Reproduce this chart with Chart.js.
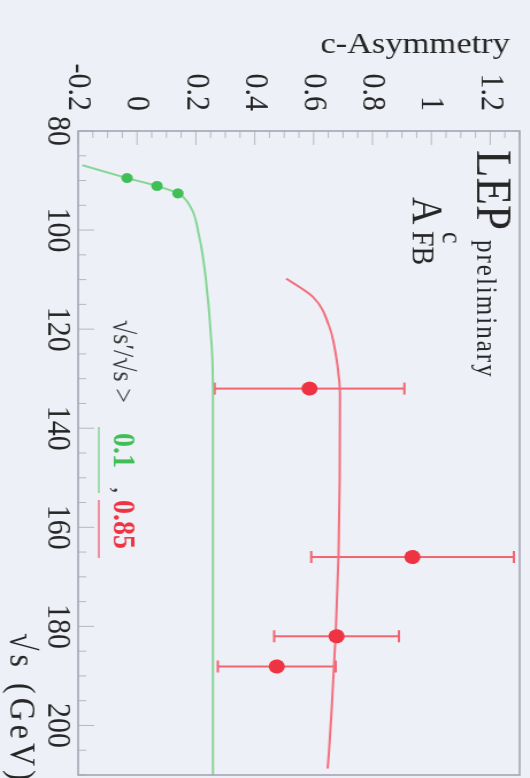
<!DOCTYPE html>
<html>
<head>
<meta charset="utf-8">
<script src="https://cdn.jsdelivr.net/npm/chart.js@4/dist/chart.umd.min.js"></script>
<style>
  html, body { margin: 0; padding: 0; background: #eef0f7; overflow: hidden; width: 530px; height: 778px; }
  /* the plot is laid out landscape and turned a quarter turn clockwise */
  #wrap { position: absolute; left: 0; top: 0; width: 860px; height: 461px;
          transform-origin: 0 0; transform: translate(530px, 0) rotate(90deg) scale(1, 1.1497); }
  canvas { display: block; }
</style>
</head>
<body>
<div id="wrap"><canvas id="c" width="860" height="461"></canvas></div>
<script>
// Measured charm forward-backward asymmetry
const lowEnergy = [89.5, 91.1, 92.6];          // √s (GeV), √s'/√s > 0.1 sample
const lowAfb = [-0.034, 0.068, 0.139];
const highEnergy = [132.0, 166.0, 182.0, 188.1]; // √s (GeV), √s'/√s > 0.85 sample
const highAfb = [0.586, 0.936, 0.678, 0.475];
const highErr = [0.322, 0.344, 0.212, 0.200];

// Standard Model expectation curves
const lowCurveEnergy = [86.9, 89.5, 91.1, 92.6, 95.5, 101.0, 114.2, 131.8, 170, 210];
const lowCurveAfb = [-0.186, -0.034, 0.068, 0.139, 0.183, 0.210, 0.241, 0.258, 0.258, 0.258];
const highCurveEnergy = [109.8, 113.5, 119.6, 127.7, 133.1, 150, 165.4, 181.6, 197.8, 208.7];
const highCurveAfb = [0.507, 0.598, 0.654, 0.682, 0.690, 0.689, 0.685, 0.675, 0.660, 0.648];

// Axis tick labels
const energyTicks = [80, 100, 120, 140, 160, 180, 200];
const energyTickLabels = ['80', '100', '120', '140', '160', '180', '200'];
const afbTicks = [-0.2, 0, 0.2, 0.4, 0.6, 0.8, 1, 1.2];
const afbTickLabels = ['-0.2', '0', '0.2', '0.4', '0.6', '0.8', '1', '1.2'];

const GREEN = '#3fbf55', GREEN_LINE = '#86d696';
const RED = '#ee3342', RED_LINE = '#f2707e';
const SERIF = '"Liberation Serif", "Times New Roman", serif';
const INK = '#262626';

const pts = (xs, ys) => xs.map((x, i) => ({ x, y: ys[i] }));

const decorations = {
  id: 'decorations',
  beforeDraw(chart) {
    const { ctx } = chart;
    ctx.save();
    ctx.fillStyle = '#eef0f7';
    ctx.fillRect(0, 0, chart.width, chart.height);
    ctx.restore();
  },
  beforeDatasetsDraw(chart) {
    const { ctx } = chart;
    const xs = chart.scales.x, ys = chart.scales.y;
    ctx.save();
    ctx.strokeStyle = '#f2646f';
    ctx.lineWidth = 2;
    highEnergy.forEach((e, i) => {
      const px = xs.getPixelForValue(e);
      const lo = ys.getPixelForValue(highAfb[i] - highErr[i]);
      const hi = ys.getPixelForValue(highAfb[i] + highErr[i]);
      ctx.beginPath();
      ctx.moveTo(px, lo); ctx.lineTo(px, hi);
      ctx.moveTo(px - 6, lo); ctx.lineTo(px + 6, lo);
      ctx.moveTo(px - 6, hi); ctx.lineTo(px + 6, hi);
      ctx.stroke();
    });
    ctx.restore();
  },
  afterDraw(chart) {
    const { ctx, chartArea: a } = chart;
    const xs = chart.scales.x, ys = chart.scales.y;
    ctx.save();
    // inward tick marks
    ctx.strokeStyle = '#b4b8c4';
    ctx.lineWidth = 1;
    ctx.beginPath();
    for (let v = 80; v <= 210; v += 5) {
      const px = xs.getPixelForValue(v);
      const len = (v % 20 === 0) ? 14 : 7;
      ctx.moveTo(px, a.bottom); ctx.lineTo(px, a.bottom - len);
    }
    for (let k = -4; k <= 26; k++) {
      const py = ys.getPixelForValue(k * 0.05);
      const len = (k % 4 === 0) ? 14 : 7;
      ctx.moveTo(a.left, py); ctx.lineTo(a.left + len, py);
    }
    ctx.stroke();
    // frame
    ctx.strokeStyle = '#a3a7b3';
    ctx.lineWidth = 1.6;
    ctx.strokeRect(a.left, a.top, a.right - a.left, a.bottom - a.top);

    ctx.fillStyle = INK;
    ctx.textBaseline = 'alphabetic';
    ctx.textAlign = 'left';
    // experiment label
    ctx.font = '45px ' + SERIF;
    ctx.fillText('LEP', 150, 46);
    ctx.font = '25px ' + SERIF;
    ctx.letterSpacing = '2px';
    ctx.fillText('preliminary', 240, 46);
    ctx.letterSpacing = '0px';
    ctx.font = '38px ' + SERIF;
    ctx.fillText('A', 197, 102);
    ctx.font = '26px ' + SERIF;
    ctx.fillText('c', 232, 76);
    ctx.font = '28px ' + SERIF;
    ctx.fillText('FB', 231, 102);

    // selection key
    ctx.font = '26px ' + SERIF;
    ctx.fillStyle = '#3a3a3a';
    ctx.fillText('√s\u2032/√s >', 320, 362);
    ctx.font = 'bold 28px ' + SERIF;
    ctx.fillStyle = GREEN;
    ctx.fillText('0.1', 433, 362);
    ctx.fillStyle = '#3a3a3a';
    ctx.font = '26px ' + SERIF;
    ctx.fillText(',', 487, 362);
    ctx.font = 'bold 28px ' + SERIF;
    ctx.fillStyle = RED;
    ctx.fillText('0.85', 500, 362);
    ctx.lineWidth = 1.5;
    ctx.strokeStyle = GREEN_LINE;
    ctx.beginPath(); ctx.moveTo(427, 375); ctx.lineTo(493, 375); ctx.stroke();
    ctx.strokeStyle = RED_LINE;
    ctx.beginPath(); ctx.moveTo(500, 375); ctx.lineTo(558, 375); ctx.stroke();

    // axis titles
    ctx.fillStyle = INK;
    ctx.font = '32px ' + SERIF;
    ctx.letterSpacing = '4px';
    ctx.fillText('√s (GeV)', 633, 452);
    ctx.letterSpacing = '0px';
    ctx.translate(53, 17.4);
    ctx.rotate(-Math.PI / 2);
    ctx.textAlign = 'right';
    ctx.font = '30px ' + SERIF;
    ctx.fillText('c-Asymmetry', 0, 0);
    ctx.restore();
  }
};

new Chart(document.getElementById('c'), {
  type: 'scatter',
  data: {
    datasets: [
      { label: 'high points', data: pts(highEnergy, highAfb), pointRadius: 7,
        pointBackgroundColor: RED, pointBorderWidth: 0, showLine: false },
      { label: 'low points', data: pts(lowEnergy, lowAfb), pointRadius: 5,
        pointBackgroundColor: GREEN, pointBorderWidth: 0, showLine: false },
      { label: 'high curve', data: pts(highCurveEnergy, highCurveAfb), showLine: true,
        borderColor: RED_LINE, borderWidth: 2, pointRadius: 0, cubicInterpolationMode: 'monotone' },
      { label: 'low curve', data: pts(lowCurveEnergy, lowCurveAfb), showLine: true,
        borderColor: GREEN_LINE, borderWidth: 2, pointRadius: 0, cubicInterpolationMode: 'monotone' }
    ]
  },
  options: {
    responsive: false,
    animation: false,
    devicePixelRatio: 1,
    layout: { padding: { left: 0, right: 85, top: 9, bottom: 0 } },
    plugins: { legend: { display: false }, tooltip: { enabled: false } },
    scales: {
      x: {
        type: 'linear', min: 80, max: 210,
        afterBuildTicks: s => { s.ticks = energyTicks.map(v => ({ value: v })); },
        afterFit: s => { s.height = 68; s.paddingLeft = 0; s.paddingRight = 0; },
        grid: { display: false }, border: { display: false },
        ticks: { font: { family: SERIF, size: 30 }, color: INK, padding: -8, maxRotation: 0, autoSkip: false,
                 callback: (v, i) => energyTickLabels[i] }
      },
      y: {
        type: 'linear', min: -0.2, max: 1.3,
        afterBuildTicks: s => { s.ticks = afbTicks.map(v => ({ value: v })); },
        afterFit: s => { s.width = 131; s.paddingTop = 0; s.paddingBottom = 0; },
        grid: { display: false }, border: { display: false },
        ticks: { font: { family: SERIF, size: 30 }, color: INK, padding: 12, autoSkip: false,
                 callback: (v, i) => afbTickLabels[i] }
      }
    }
  },
  plugins: [decorations]
});
</script>
</body>
</html>
